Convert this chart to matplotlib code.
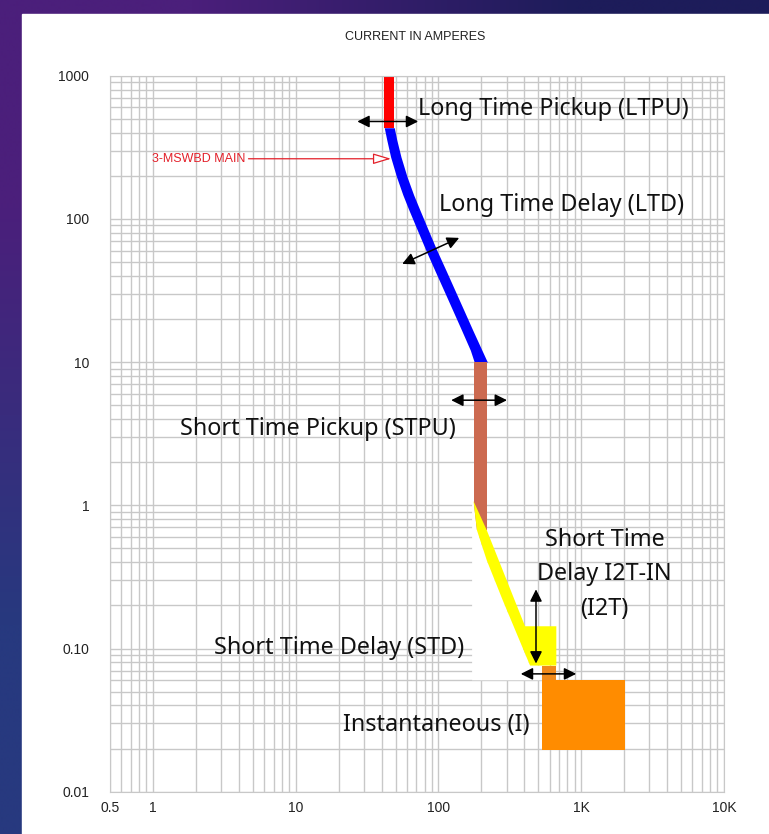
import numpy as np
import matplotlib
matplotlib.use('Agg')
import matplotlib.pyplot as plt
from matplotlib.patches import Rectangle
from matplotlib.colors import to_rgb


# axis ticks
x_ticks = [0.5, 1, 10, 100, 1000, 10000]
x_tick_labels = ['0.5', '1', '10', '100', '1K', '10K']
y_ticks = [0.01, 0.1, 1, 10, 100, 1000]
y_tick_labels = ['0.01', '0.10', '1', '10', '100', '1000']

# trip curve bands (amps, seconds)
ltpu_amps = [41.7, 49]
ltpu_sec = [433, 1000]
ltd_sec = [433, 357, 271, 197, 147, 116, 83.8, 60.7, 44.0, 31.9, 23.1, 16.7, 12.1, 10]
ltd_amps_lo = [41.7, 43.4, 46.2, 50.8, 56.3, 61.9, 71.0, 81.4, 93.9, 108.6, 125.5, 145.1, 167.2, 178]
ltd_amps_hi = [49.0, 51.0, 54.6, 60.2, 67.0, 73.9, 84.7, 97.1, 112.5, 130.0, 150.3, 173.8, 201.5, 220]
stpu_amps = [177, 218]
stpu_sec = [0.67, 10]
std_amps = [176, 218, 404, 669, 669, 438, 282, 218, 186]
std_sec = [1.07, 0.669, 0.143, 0.143, 0.076, 0.076, 0.217, 0.412, 0.669]
mask_amps = [172, 176, 186, 218, 282, 438, 534, 534, 172]
mask_sec = [1.07, 1.07, 0.669, 0.412, 0.217, 0.076, 0.076, 0.06, 0.06]
step_amps = [534, 669]
step_sec = [0.0607, 0.076]
inst_amps = [534, 2020]
inst_sec = [0.0194, 0.0607]

# adjustment arrows ((amps, sec) -> (amps, sec))
arrows = [
    ((27.0, 479), (72.1, 479)),
    ((55.7, 48.5), (139.6, 73.7)),
    ((122.7, 5.42), (302, 5.42)),
    ((482, 0.259), (482, 0.0785)),
    ((377, 0.0665), (922, 0.0665)),
]

labels = [
    ('Long Time Pickup (LTPU)', 72.1, 590, 'left'),
    ('Long Time Delay (LTD)', 101, 126, 'left'),
    ('Short Time Pickup (STPU)', 1.54, 3.4, 'left'),
    ('Short Time\nDelay I2T-IN\n(I2T)', 1453, 0.33, 'center'),
    ('Short Time Delay (STD)', 2.66, 0.101, 'left'),
    ('Instantaneous (I)', 431, 0.029, 'right'),
]

device_name = '3-MSWBD MAIN'
device_text_at = (0.99, 263)
device_tip = (46.5, 263)

W, H = 769, 834
fig = plt.figure(figsize=(W / 100, H / 100), dpi=100)

# slide background: purple gradient with white panel
bg = fig.add_axes([0, 0, 1, 1], zorder=-5)
corners = np.array([[to_rgb('#4b1f7b'), to_rgb('#1d1c5a')],
                    [to_rgb('#27397f'), to_rgb('#1d1c5a')]])
bg.imshow(corners, extent=[0, 1, 0, 1], aspect='auto', interpolation='bilinear')
bg.add_patch(Rectangle((22 / W, 0), 1, 1 - 14 / H, color='white'))
bg.set_xlim(0, 1)
bg.set_ylim(0, 1)
bg.axis('off')

ax = fig.add_axes([110 / W, 1 - 791.7 / H, 614 / W, 716 / H])
ax.set_facecolor('none')
ax.set_xscale('log')
ax.set_yscale('log')
ax.set_xlim(0.5, 10000)
ax.set_ylim(0.01, 1000)
ax.grid(True, which='both', color='#c8c8c8', lw=1.0)
ax.set_axisbelow(True)
for s in ax.spines.values():
    s.set_color('#c8c8c8')

tick_font = ['Liberation Sans Narrow', 'Liberation Sans', 'DejaVu Sans']
ax.set_xticks(x_ticks)
ax.set_xticklabels(x_tick_labels, family=tick_font, fontsize=10, color='#222222')
ax.set_yticks(y_ticks)
ax.set_yticklabels(y_tick_labels, family=tick_font, fontsize=10, color='#222222')
ax.tick_params(which='both', length=0)
ax.tick_params(axis='y', pad=15)
ax.tick_params(axis='x', pad=7)

fig.text(415 / W, 1 - 37 / H, 'CURRENT IN AMPERES', ha='center', va='center',
         family=tick_font, fontsize=9, color='#222222')

# bands
ax.fill_betweenx(ltpu_sec, ltpu_amps[0], ltpu_amps[1], color='#ff0000', lw=0)
ax.fill_betweenx(ltd_sec, ltd_amps_lo, ltd_amps_hi, color='#0000ff', lw=0)
ax.fill_betweenx(stpu_sec, stpu_amps[0], stpu_amps[1], color='#cc6a50', lw=0)
ax.fill(mask_amps, mask_sec, color='white', lw=0, zorder=2)
ax.fill(std_amps, std_sec, color='#ffff00', lw=0, zorder=3)
ax.fill_betweenx(step_sec, step_amps[0], step_amps[1], color='#f08a1c', lw=0, zorder=3)
ax.fill_betweenx(inst_sec, inst_amps[0], inst_amps[1], color='#ff8c00', lw=0, zorder=3)

for (a, b) in arrows:
    ax.annotate('', xy=b, xytext=a,
                arrowprops=dict(arrowstyle='<|-|>', color='black', lw=1.1,
                                mutation_scale=18, shrinkA=0, shrinkB=0),
                zorder=5)

ax.annotate(device_name, xy=device_tip, xytext=device_text_at, ha='left', va='center',
            family=tick_font, fontsize=9, color='#e3202a',
            arrowprops=dict(arrowstyle='-|>,head_length=1.0,head_width=0.3',
                            edgecolor='#e3202a', facecolor='white', lw=0.9,
                            mutation_scale=11, shrinkA=0, shrinkB=0),
            zorder=5)

for txt, x, y, ha in labels:
    ax.text(x, y, txt, ha=ha, va='center', fontsize=16.8, family='Noto Sans',
            color='#111111', linespacing=1.58, zorder=6, multialignment='center')

fig.savefig('out.png', dpi=100)
